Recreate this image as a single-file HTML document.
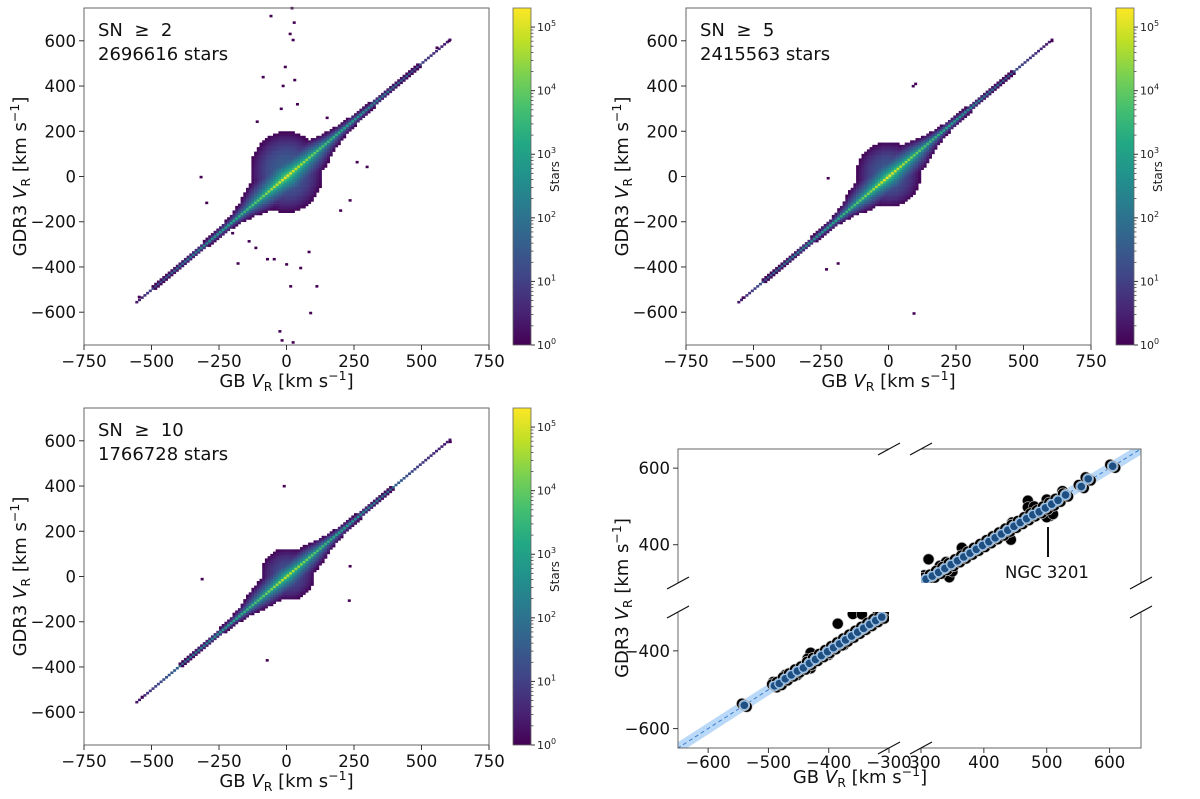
<!DOCTYPE html>
<html><head><meta charset="utf-8">
<style>
html,body{margin:0;padding:0;background:#fff;overflow:hidden;}
svg{display:block;font-family:"DejaVu Sans","Liberation Sans",sans-serif;}
</style></head>
<body>
<svg id="fig" width="1200" height="799" viewBox="0 0 1200 799" xmlns="http://www.w3.org/2000/svg"></svg>
<script>
// ---- data ----
const knotsS = [-560,-500,-400,-300,-200,-150,-100,0,100,150,200,300,400,500,610];
const peak1 = [0.3,1.0,1.8,2.4,3.1,3.5,4.0,5.2,4.1,3.6,3.2,2.4,1.8,1.0,0.3];
const halo1 = [6,10,14,20,32,55,95,150,100,60,38,22,14,10,6];
const peak2 = [0.3,1.0,1.8,2.4,3.1,3.5,4.0,5.2,4.1,3.6,3.2,2.4,1.8,1.0,0.3];
const halo2 = [5,9,12,18,28,48,85,130,90,52,32,20,12,9,5];
const peak3 = [0.3,0.9,1.7,2.3,3.0,3.4,3.8,4.9,3.9,3.4,3.0,2.3,1.7,0.9,0.3];
const halo3 = [4,7,10,15,24,40,70,105,72,44,28,16,10,7,4];
// elliptical halo blob: [centerX, centerY, radiusX, radiusY, peakLog]
const blob1 = [0,20,135,180,1.6];
const blob2 = [0,10,120,145,1.5];
const blob3 = [5,10,100,115,1.3];
const outliers1 = [[20,745],[-58,710],[28,681],[13,631],[24,604],[-5,485],[-87,440],[-13,401],[30,427],[-109,243],[-317,-2],[-296,-116],[235,-105],[298,43],[261,64],[-180,-384],[0,-388],[52,-404],[112,-485],[15,-485],[89,-603],[-25,-684],[-17,-724],[24,-733],[-546,-532],[602,600],[557,570],[-139,-286],[-114,-315],[-46,-365],[-71,-365],[83,-333],[-20,300],[40,320],[150,260],[-200,-250],[200,-150]];
const outliers2 = [[94,-605],[91,400],[-224,-7],[-187,-384],[-539,-535],[605,600],[100,410],[-230,-410]];
const outliers3 = [[-9,400],[-72,-370],[232,-106],[-535,-532],[606,596],[-313,-11],[235,46]];
const ticksX = [-750,-500,-250,0,250,500,750];
const ticksY = [-600,-400,-200,0,200,400,600];
const cbTicks = [0,1,2,3,4,5];
const blueLeft = [[-540,-540],[-490,-490],[-482,-484],[-472,-472],[-462,-462],[-452,-452],[-442,-444],[-432,-432],[-422,-422],[-412,-412],[-402,-402],[-392,-392],[-382,-382],[-372,-372],[-362,-362],[-352,-352],[-342,-342],[-332,-332],[-322,-322],[-312,-313]];
const blackLeft = [[-385,-330],[-360,-305],[-345,-306],[-430,-405],[-435,-420],[-430,-445],[-472,-462],[-492,-480],[-452,-462],[-400,-410],[-375,-385],[-320,-310],[-305,-305]];
const blueRight = [[308,310],[318,318],[328,328],[338,338],[348,348],[358,358],[368,368],[378,378],[388,388],[398,398],[408,408],[418,418],[428,428],[438,438],[448,448],[458,458],[468,468],[478,478],[488,486],[498,496],[508,506],[518,516],[530,530],[555,552],[566,572],[605,605]];
const blackRight = [[312,362],[330,345],[345,315],[365,392],[443,413],[470,515],[500,518],[525,540],[470,498],[505,475],[500,472],[445,458],[340,355],[350,330],[305,320],[510,480],[480,500]];

// ---- helpers ----
const NS="http://www.w3.org/2000/svg";
const svg=document.getElementById('fig');
function mk(tag,attrs,parent){const e=document.createElementNS(NS,tag);for(const k in attrs)e.setAttribute(k,attrs[k]);(parent||svg).appendChild(e);return e;}
const vir=['#440154','#482475','#414487','#355f8d','#2a788e','#21918c','#22a884','#44bf70','#7ad151','#bddf26','#fde725'];
function hex(h){return [parseInt(h.substr(1,2),16),parseInt(h.substr(3,2),16),parseInt(h.substr(5,2),16)];}
function viridis(t){t=Math.max(0,Math.min(1,t));const f=t*10,i=Math.min(9,Math.floor(f)),r=f-i;const a=hex(vir[i]),b=hex(vir[i+1]);return 'rgb('+a.map((v,k)=>Math.round(v+(b[k]-v)*r)).join(',')+')';}
function interp(xs,ys,x){if(x<=xs[0])return ys[0];if(x>=xs[xs.length-1])return ys[ys.length-1];for(let i=0;i<xs.length-1;i++){if(x<=xs[i+1]){const r=(x-xs[i])/(xs[i+1]-xs[i]);return ys[i]+(ys[i+1]-ys[i])*r;}}}
const LMAX=5.3;
function fmt(v){return v<0?'\u2212'+(-v):''+v;}
const TF=16.5, LF=18;

function axisLabel(g,x,y,pre,rot){
  const t=mk('text',{x:x,y:y,'font-size':LF,'text-anchor':'middle',fill:'#111',transform:rot?`rotate(-90 ${x} ${y})`:''},g);
  t.innerHTML=pre+' <tspan font-style="italic">V</tspan><tspan font-size="12.5" dy="4">R</tspan><tspan dy="-4"> [km s</tspan><tspan font-size="12.5" dy="-7">\u22121</tspan><tspan dy="7">]</tspan>';
  return t;
}

function histPanel(id,L,T,W,H,peak,halo,blob,outs,label,count,cbx){
  const g=mk('g',{});
  
  
  const sx=v=>L+(v+750)*W/1500, sy=v=>T+(745-v)*H/1490;
  const cw=10*W/1500+0.3, ch=10*H/1490+0.3;
  const cells=mk('g',{},g);
  
  
  for(let xb=-745;xb<=745;xb+=10){for(let yb=-745;yb<=745;yb+=10){
    const s=(xb+yb)/2,d=Math.abs(yb-xb);
    let Lg=-1;
    if(s>=-560&&s<=610){
      const p=interp(knotsS,peak,s),h=interp(knotsS,halo,s);
      if(d<h)Lg=p*(1-Math.sqrt(d/h));
    }
    const rr=Math.hypot((xb-blob[0])/blob[2],(yb-blob[1])/blob[3]);
    if(rr<1)Lg=Math.max(Lg,blob[4]*(1-rr*rr));
    if(Lg<0)continue;
    mk('rect',{x:sx(xb-5).toFixed(2),y:sy(yb+5).toFixed(2),width:cw.toFixed(2),height:ch.toFixed(2),fill:viridis(Lg/LMAX)},cells);
  }}
  outs.forEach(o=>{const r=mk('rect',{x:sx(o[0]-5),y:sy(o[1]+5),width:cw,height:ch,fill:viridis(0)},cells);
    
    });
  const fr=mk('rect',{x:L,y:T,width:W,height:H,fill:'none',stroke:'#666','stroke-width':1},g);
  
  
  ticksX.forEach(v=>{const x=sx(v);mk('line',{x1:x,x2:x,y1:T+H,y2:T+H+5,stroke:'#333'},g);
    const t=mk('text',{x:x,y:T+H+22,'font-size':TF,'text-anchor':'middle',fill:'#111'},g);t.textContent=fmt(v);
    
    });
  ticksY.forEach(v=>{const y=sy(v);mk('line',{x1:L-5,x2:L,y1:y,y2:y,stroke:'#333'},g);
    const t=mk('text',{x:L-8,y:y+6,'font-size':TF,'text-anchor':'end',fill:'#111'},g);t.textContent=fmt(v);
    
    });
  const xl=axisLabel(g,L+W/2,T+H+42,'GB',false);
  
  
  const yl=axisLabel(g,L-58,T+H/2,'GDR3',true);
  
  
  const t1=mk('text',{x:L+14,y:T+28,'font-size':LF,fill:'#111'},g);t1.textContent='SN\u00a0\u00a0\u2265\u00a0\u00a0'+label;
  
  
  const t2=mk('text',{x:L+14,y:T+52,'font-size':LF,fill:'#111'},g);t2.textContent=count+' stars';
  
  
  const cb=mk('g',{},g);
  
  
  const gid='grad'+id;
  const defs=mk('defs',{},cb);const lg=mk('linearGradient',{id:gid,x1:0,y1:1,x2:0,y2:0},defs);
  vir.forEach((c,i)=>mk('stop',{offset:i/10,'stop-color':c},lg));
  mk('rect',{x:cbx,y:T,width:18,height:H,fill:`url(#${gid})`,stroke:'#666','stroke-width':0.8},cb);
  const cy=l=>T+H-l*H/LMAX;
  for(let dcd=0;dcd<6;dcd++){for(let m=2;m<10;m++){const l=dcd+Math.log10(m);if(l>LMAX)break;mk('line',{x1:cbx+18,x2:cbx+20.5,y1:cy(l),y2:cy(l),stroke:'#333','stroke-width':0.7},cb);}}
  cbTicks.forEach(l=>{const y=cy(l);mk('line',{x1:cbx+18,x2:cbx+22,y1:y,y2:y,stroke:'#333'},cb);
    const t=mk('text',{x:cbx+24,y:y+4,'font-size':11,fill:'#222'},cb);t.innerHTML='10<tspan font-size="8" dy="-5">'+l+'</tspan>';
    
    });
  const st=mk('text',{x:cbx+46,y:T+H/2,'font-size':12,'text-anchor':'middle',fill:'#222',transform:`rotate(-90 ${cbx+46} ${T+H/2})`},cb);st.textContent='Stars';
  
  
}
histPanel('panel-sn2',84,8,405,337,peak1,halo1,blob1,outliers1,'2','2696616',513);
histPanel('panel-sn5',686,8,405,337,peak2,halo2,blob2,outliers2,'5','2415563',1116);
histPanel('panel-sn10',84,408,405,337,peak3,halo3,blob3,outliers3,'10','1766728',513);

// ---- panel 4: broken axes ----
(function(){
  const g=mk('g',{});
  
  
  const LX={l:678,r:889,v0:-650,v1:-300}, RX={l:921,r:1141,v0:300,v1:650};
  const TY={t:449,b:583,v0:650,v1:300}, BY={t:612,b:748,v0:-300,v1:-650};
  const mx=(a,v)=>a.l+(v-a.v0)*(a.r-a.l)/(a.v1-a.v0);
  const my=(a,v)=>a.t+(v-a.v0)*(a.b-a.t)/(a.v1-a.v0);
  const defs=mk('defs',{},g);
  const c1=mk('clipPath',{id:'clipLB'},defs);mk('rect',{x:LX.l,y:BY.t,width:LX.r-LX.l,height:BY.b-BY.t},c1);
  const c2=mk('clipPath',{id:'clipRT'},defs);mk('rect',{x:RX.l,y:TY.t,width:RX.r-RX.l,height:TY.b-TY.t},c2);
  function sub(ax,ay,clip,blue,black,name){
    const s=mk('g',{'clip-path':`url(#${clip})`},g);
    
    
    const a=-700,b=700,w=15;
    const band=mk('polygon',{points:`${mx(ax,a)},${my(ay,a+w)} ${mx(ax,b)},${my(ay,b+w)} ${mx(ax,b)},${my(ay,b-w)} ${mx(ax,a)},${my(ay,a-w)}`,fill:'#9cc9f5','fill-opacity':0.7},s);
    
    
    const ln=mk('line',{x1:mx(ax,a),y1:my(ay,a),x2:mx(ax,b),y2:my(ay,b),stroke:'#3a7fd0','stroke-width':1,'stroke-dasharray':'4,3'},s);
    
    
    black.forEach(p=>{const c=mk('circle',{cx:mx(ax,p[0]),cy:my(ay,p[1]),r:5.5,fill:'#000',stroke:'#bbb','stroke-width':0.6},s);
      
      });
    blue.forEach(p=>{[[-4,4],[4,-4],[0,0]].forEach(o=>{const c=mk('circle',{cx:mx(ax,p[0]+o[0]),cy:my(ay,p[1]+o[1]),r:5.5,fill:'#000',stroke:'#ccc','stroke-width':0.6},s);
      
      });});
    blue.forEach(p=>{const c=mk('circle',{cx:mx(ax,p[0]),cy:my(ay,p[1]),r:4.5,fill:'#1f4f80',stroke:'#9cc3ea','stroke-width':1.4},s);
      
      });
  }
  sub(LX,BY,'clipLB',blueLeft,blackLeft,'lower-left-subplot');
  sub(RX,TY,'clipRT',blueRight,blackRight,'upper-right-subplot');
  const sp={stroke:'#666','stroke-width':1,fill:'none'};
  mk('polyline',Object.assign({points:`${LX.r},${TY.t} ${LX.l},${TY.t} ${LX.l},${TY.b}`},sp),g);
  mk('polyline',Object.assign({points:`${RX.l},${TY.t} ${RX.r},${TY.t} ${RX.r},${TY.b}`},sp),g);
  mk('polyline',Object.assign({points:`${LX.l},${BY.t} ${LX.l},${BY.b} ${LX.r},${BY.b}`},sp),g);
  mk('polyline',Object.assign({points:`${RX.l},${BY.b} ${RX.r},${BY.b} ${RX.r},${BY.t}`},sp),g);
  [[LX.r,TY.t],[RX.l,TY.t],[LX.l,TY.b],[RX.r,TY.b],[LX.l,BY.t],[RX.r,BY.t],[LX.r,BY.b],[RX.l,BY.b]].forEach(p=>{
    const m=mk('line',{x1:p[0]-11,y1:p[1]+6,x2:p[0]+11,y2:p[1]-6,stroke:'#111','stroke-width':1.2},g);
    
    });
  const xtL=[-600,-500,-400,-300], xtR=[300,400,500,600], ytT=[400,600], ytB=[-600,-400];
  xtL.forEach(v=>{const x=mx(LX,v);mk('line',{x1:x,x2:x,y1:BY.b,y2:BY.b+5,stroke:'#333'},g);const t=mk('text',{x:x,y:BY.b+20,'font-size':TF,'text-anchor':'middle',fill:'#111'},g);t.textContent=fmt(v);
    
    });
  xtR.forEach(v=>{const x=mx(RX,v);mk('line',{x1:x,x2:x,y1:BY.b,y2:BY.b+5,stroke:'#333'},g);const t=mk('text',{x:x+(v==300?4:0),y:BY.b+20,'font-size':TF,'text-anchor':'middle',fill:'#111'},g);t.textContent=fmt(v);
    
    });
  ytT.forEach(v=>{const y=my(TY,v);mk('line',{x1:LX.l-5,x2:LX.l,y1:y,y2:y,stroke:'#333'},g);const t=mk('text',{x:LX.l-8,y:y+6,'font-size':TF,'text-anchor':'end',fill:'#111'},g);t.textContent=fmt(v);
    
    });
  ytB.forEach(v=>{const y=my(BY,v);mk('line',{x1:LX.l-5,x2:LX.l,y1:y,y2:y,stroke:'#333'},g);const t=mk('text',{x:LX.l-8,y:y+6,'font-size':TF,'text-anchor':'end',fill:'#111'},g);t.textContent=fmt(v);
    
    });
  const xl=axisLabel(g,860,783,'GB',false);
  
  
  const yl=axisLabel(g,628,598,'GDR3',true);
  
  
  const al=mk('line',{x1:1048,y1:527,x2:1048,y2:557,stroke:'#111','stroke-width':2},g);
  
  
  const an=mk('text',{x:1005,y:578,'font-size':TF,fill:'#111'},g);an.textContent='NGC 3201';
  
  
})();
</script>
</body></html>
